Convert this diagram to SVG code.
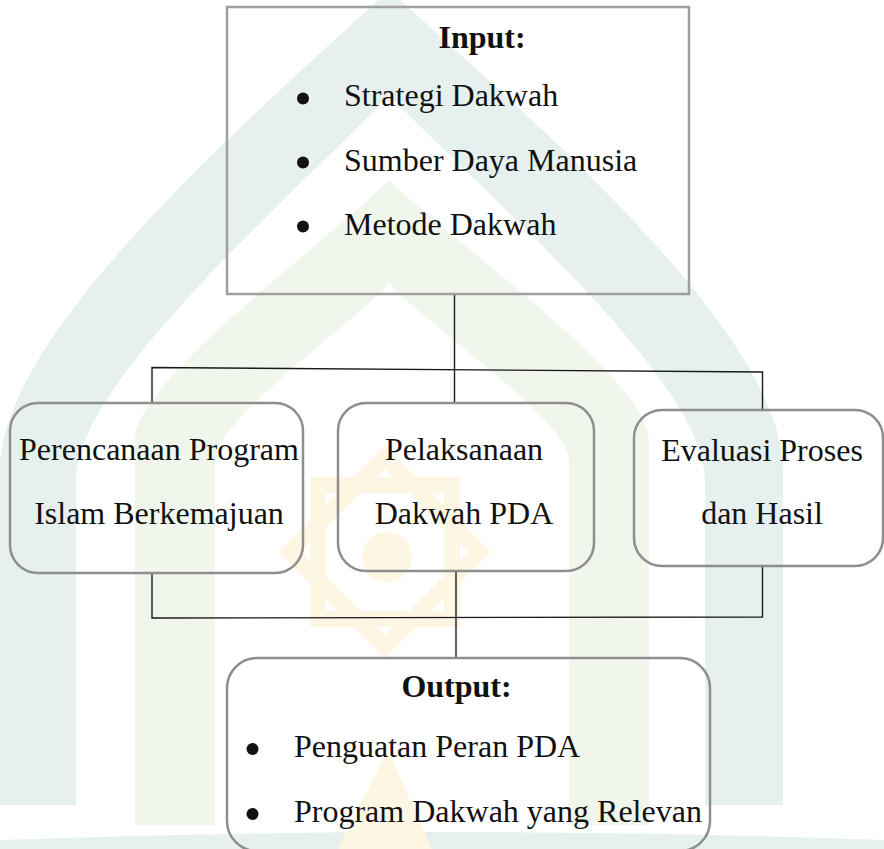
<svg xmlns="http://www.w3.org/2000/svg" width="884" height="849" viewBox="0 0 884 849">
<style>
  .t{font-family:"Liberation Serif","Times New Roman",serif;font-size:32px;fill:#111}
  .b{font-weight:bold}
  .box{fill:none;stroke:#8e8e8e;stroke-width:2.5}
  .sq{fill:none;stroke:#9f9f9f;stroke-width:2.5}
  .ln{fill:none;stroke:#1a1a1a;stroke-width:1.4}
  .dot{fill:#111}
</style>
<rect width="884" height="849" fill="#ffffff"/>
<g id="watermark">
  <path d="M0,805 L0,470 C0,330 260,110 389,-10 C520,110 783,330 783,470 L783,805 L705,805 L705,480 C705,380 480,190 389,95 C300,190 76,380 76,480 L76,805 Z" fill="#e6f0ee"/>
  <path d="M135,825 L135,440 C135,380 330,240 389,180 C450,240 649,380 649,440 L649,825 L569,825 L569,460 C569,420 420,320 389,283 C358,320 215,420 215,460 L215,825 Z" fill="#f0f6eb"/>
  <path d="M0,849 L0,840 Q440,824 884,840 L884,849 Z" fill="#e6f0ee"/>
  <g fill="none" stroke="#fdf6e2" stroke-width="16">
    <rect x="318" y="485" width="134" height="134"/>
    <rect x="318" y="485" width="134" height="134" transform="rotate(45 385 552)"/>
  </g>
  <circle cx="387" cy="557" r="25" fill="#fdf6e2"/>
  <path d="M338,849 L388,750 L432,849 Z" fill="#fdf6e2"/>
</g>
<g id="connectors">
  <path class="ln" d="M454.5,295 L454.5,403"/>
  <path class="ln" d="M152,403 L152,367.5 L762.5,372 L762.5,410"/>
  <path class="ln" d="M152,573 L152,618 L762.5,617 L762.5,566"/>
  <path class="ln" d="M456,571 L456,658"/>
</g>
<g id="input">
  <rect class="sq" x="227" y="7" width="462" height="287"/>
  <text class="t b" x="438.5" y="48">Input:</text>
  <circle class="dot" cx="303" cy="98.5" r="6"/>
  <circle class="dot" cx="303" cy="162.5" r="6"/>
  <circle class="dot" cx="303" cy="226.5" r="6"/>
  <text class="t" x="344" y="106">Strategi Dakwah</text>
  <text class="t" x="344" y="170.5">Sumber Daya Manusia</text>
  <text class="t" x="344" y="235">Metode Dakwah</text>
</g>
<g id="perencanaan">
  <rect class="box" x="10" y="403" width="293" height="170" rx="28"/>
  <text class="t" x="159" y="460" text-anchor="middle">Perencanaan Program</text>
  <text class="t" x="159" y="523.5" text-anchor="middle">Islam Berkemajuan</text>
</g>
<g id="pelaksanaan">
  <rect class="box" x="338" y="403" width="256" height="168" rx="28"/>
  <text class="t" x="464" y="460" text-anchor="middle">Pelaksanaan</text>
  <text class="t" x="464" y="523.5" text-anchor="middle">Dakwah PDA</text>
</g>
<g id="evaluasi">
  <rect class="box" x="634" y="410" width="249" height="156" rx="28"/>
  <text class="t" x="762" y="461" text-anchor="middle">Evaluasi Proses</text>
  <text class="t" x="762" y="523.5" text-anchor="middle">dan Hasil</text>
</g>
<g id="output">
  <rect class="box" x="227" y="658" width="483" height="193" rx="30"/>
  <text class="t b" x="456.5" y="697" text-anchor="middle">Output:</text>
  <circle class="dot" cx="252.5" cy="749" r="6"/>
  <circle class="dot" cx="252.5" cy="814" r="6"/>
  <text class="t" x="294" y="757">Penguatan Peran PDA</text>
  <text class="t" x="294" y="822">Program Dakwah yang Relevan</text>
</g>
</svg>
